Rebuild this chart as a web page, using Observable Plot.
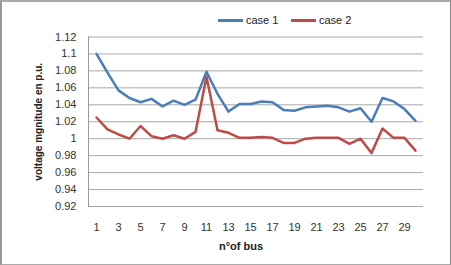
<!DOCTYPE html>
<html>
<head>
<meta charset="utf-8">
<script src="https://cdn.jsdelivr.net/npm/d3@7"></script>
<script src="https://cdn.jsdelivr.net/npm/@observablehq/plot@0.6"></script>
<style>
  body { margin: 0; background: #fff; font-family: "Liberation Sans", Arial, sans-serif; }
  #wrap { position: relative; width: 451px; height: 265px; box-sizing: border-box;
          border-top: 2px solid #aaa; border-left: 2px solid #999; border-right: 1px solid #888; border-bottom: 1px solid #aaa; background: #fff; }
  #legend { height: 26px; position: relative; font-size: 11px; color: #222; }
  .item { position: absolute; top: 12px; display: flex; align-items: center; }
  .swatch { width: 25px; height: 3px; margin-right: 3px; }
  svg { display: block; }
</style>
</head>
<body>
<div id="wrap">
  <div id="legend"></div>
  <div id="chart"></div>
</div>
<script>
const buses = d3.range(1, 31);
const case1 = [1.100,1.078,1.057,1.048,1.043,1.047,1.038,1.045,1.040,1.046,1.079,1.053,1.032,1.041,1.041,1.044,1.043,1.034,1.033,1.037,1.038,1.039,1.037,1.032,1.036,1.020,1.048,1.044,1.035,1.021];
const case2 = [1.025,1.011,1.005,1.000,1.015,1.003,1.000,1.004,1.000,1.008,1.073,1.010,1.007,1.001,1.001,1.002,1.001,0.995,0.995,1.000,1.001,1.001,1.001,0.994,1.000,0.983,1.012,1.001,1.001,0.986];
const seriesNames = ["case 1", "case 2"];
const seriesColors = ["#4A7EBB", "#BE4B48"];
const xTicks = d3.range(1, 30, 2);
const yTicks = [0.92,0.94,0.96,0.98,1.0,1.02,1.04,1.06,1.08,1.1,1.12];
const xLabel = "n°of bus";
const yLabel = "voltage mgnitude en p.u.";

const data = [];
[case1, case2].forEach((vals, k) => vals.forEach((v, i) => data.push({bus: buses[i], v, s: seriesNames[k]})));

// legend
const legend = document.getElementById("legend");
const lefts = [216, 289];
seriesNames.forEach((n, k) => {
  const it = document.createElement("div");
  it.className = "item";
  it.style.left = lefts[k] + "px";
  it.innerHTML = `<span class="swatch" style="background:${seriesColors[k]}"></span><span>${n}</span>`;
  legend.appendChild(it);
});

const chart = Plot.plot({
  width: 448,
  height: 236,
  marginLeft: 86,
  marginRight: 27,
  marginTop: 8.5,
  marginBottom: 58,
  style: {fontFamily: "Liberation Sans, Arial, sans-serif", fontSize: "11px", color: "#333", background: "#fff"},
  x: {type: "point", domain: buses, padding: 0.5},
  y: {domain: [0.92, 1.12]},
  color: {domain: seriesNames, range: seriesColors},
  marks: [
    Plot.gridY(yTicks, {stroke: "#a8a8a8", strokeOpacity: 1}),
    Plot.frame({anchor: "left", stroke: "#999"}),
    Plot.axisY({ticks: yTicks, tickSize: 0, tickPadding: 12, tickFormat: d => String(+d.toFixed(2)), label: null}),
    Plot.axisX({ticks: xTicks, tickSize: 0, tickPadding: 17, label: null}),
    Plot.line(data, {x: "bus", y: "v", z: "s", stroke: "s", strokeWidth: 2.5, strokeLinejoin: "round"}),
    Plot.text([yLabel], {frameAnchor: "left", textAnchor: "middle", text: d => d, rotate: -90, dx: -50, fontWeight: "bold", fontSize: 10, fill: "#222"}),
    Plot.text([xLabel], {frameAnchor: "bottom", textAnchor: "middle", text: d => d, dy: 43, dx: -15, fontWeight: "bold", fontSize: 11, fill: "#222"})
  ]
});
document.getElementById("chart").appendChild(chart);
</script>
</body>
</html>
